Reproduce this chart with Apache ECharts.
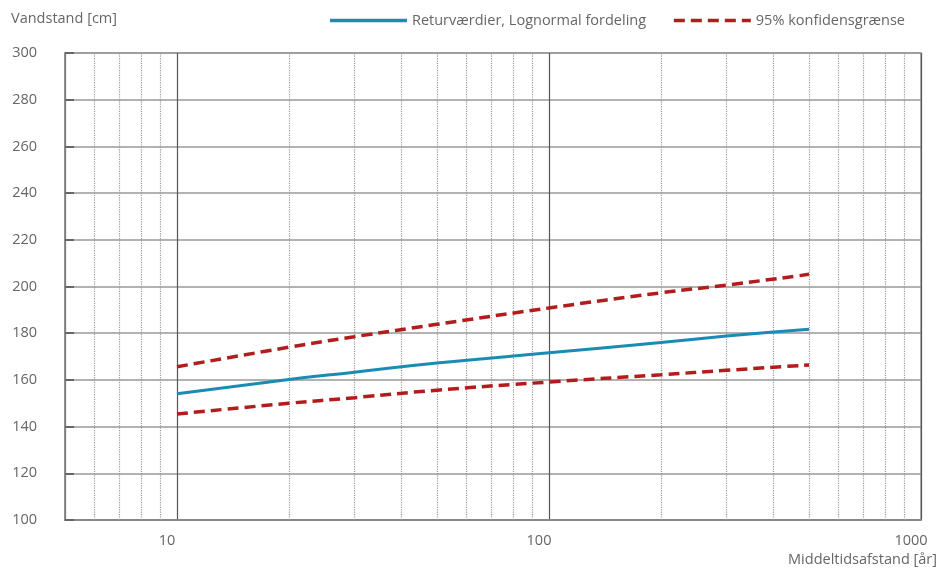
<!DOCTYPE html>
<html>
<head>
<meta charset="utf-8">
<script src="https://cdn.jsdelivr.net/npm/echarts@6/dist/echarts.min.js"></script>
<style>
html,body{margin:0;padding:0;background:#fff;}
#chart{width:940px;height:569px;}
</style>
</head>
<body>
<div id="chart"></div>
<script>
// data (x = Middeltidsafstand in years, log scale)
var years = [10, 20, 30, 50, 100, 200, 300, 500];
var returVaerdier = [154.1, 160.2, 163.3, 167.2, 171.6, 176.0, 178.8, 181.7];
var konfOvre = [165.6, 174.0, 178.5, 183.8, 190.8, 197.3, 200.6, 205.2];
var konfNedre = [145.4, 150.0, 152.4, 155.6, 159.1, 162.2, 164.1, 166.4];
// dotted minor grid lines between decades
var minorTicks = [6, 7, 8, 9, 20, 30, 40, 50, 60, 70, 80, 90, 200, 300, 400, 500, 600, 700, 800, 900];

var font = "'Open Sans', 'DejaVu Sans', sans-serif";
var txt = '#666';
var blue = '#1a8cb4';
var red = '#b31c1c';

function pairs(ys){
	var out = [];
	for(var i=0;i<years.length;i++){
		out.push([years[i], ys[i]]);
	}
	return out;
}

var minorLines = [];
for(var i=0;i<minorTicks.length;i++){
	minorLines.push({xAxis: minorTicks[i]});
}

var chart = echarts.init(document.getElementById('chart'));
var option = {
	animation: false,
	textStyle: {fontFamily: font},
	grid: {
		left: 65, right: 18, top: 53, bottom: 49,
		show: true, borderColor: '#999', borderWidth: 1.5
	},
	legend: {
		top: 8, right: 30,
		itemWidth: 77, itemHeight: 10, itemGap: 26,
		itemStyle: {opacity: 0},
		lineStyle: {width: 3.5},
		textStyle: {color: txt, fontSize: 14.5, fontFamily: font},
		data: ['Returværdier, Lognormal fordeling', '95% konfidensgrænse']
	},
	xAxis: {
		type: 'log',
		logBase: 10,
		min: 5,
		max: 1000,
		name: 'Middeltidsafstand [år]',
		nameLocation: 'end',
		nameGap: 16,
		nameTextStyle: {color: txt, fontSize: 14.5, align: 'right', verticalAlign: 'top', padding: [32, 0, 0, 0]},
		axisLine: {lineStyle: {color: '#888', width: 2}},
		axisTick: {show: false},
		axisLabel: {
			color: txt, fontSize: 14.5, margin: 13, showMinLabel: false, padding: [0, 20, 0, 0],
			formatter: function(v){ return String(Math.round(v)); }
		},
		splitLine: {show: true, lineStyle: {color: '#555', width: 1.2}}
	},
	yAxis: {
		type: 'value',
		min: 100,
		max: 300,
		interval: 20,
		name: 'Vandstand [cm]',
		nameLocation: 'end',
		nameGap: 27,
		nameTextStyle: {color: txt, fontSize: 14.5, align: 'left', padding: [0, 0, 0, -54]},
		axisLine: {show: true, lineStyle: {color: '#888', width: 1.5}},
		axisTick: {show: true, inside: true, length: 9, lineStyle: {color: '#666', width: 2}},
		axisLabel: {color: txt, fontSize: 14.5, margin: 28},
		splitLine: {show: true, lineStyle: {color: '#999', width: 1.5}}
	},
	series: [{
		name: 'Returværdier, Lognormal fordeling',
		type: 'line',
		data: pairs(returVaerdier),
		symbol: 'none',
		smooth: true,
		lineStyle: {color: blue, width: 3},
		itemStyle: {color: blue},
		z: 5,
		markLine: {
			silent: true,
			symbol: 'none',
			label: {show: false},
			lineStyle: {color: '#999', type: 'dotted', width: 1.2},
			data: minorLines,
			z: 1
		}
	}, {
		name: '95% konfidensgrænse',
		type: 'line',
		data: pairs(konfOvre),
		symbol: 'none',
		smooth: true,
		lineStyle: {color: red, width: 3.5, type: [11, 6]},
		itemStyle: {color: red},
		z: 4
	}, {
		name: '95% konfidensgrænse',
		type: 'line',
		data: pairs(konfNedre),
		symbol: 'none',
		smooth: true,
		lineStyle: {color: red, width: 3.5, type: [11, 6]},
		itemStyle: {color: red},
		z: 4
	}]
};
chart.setOption(option);
</script>
</body>
</html>
